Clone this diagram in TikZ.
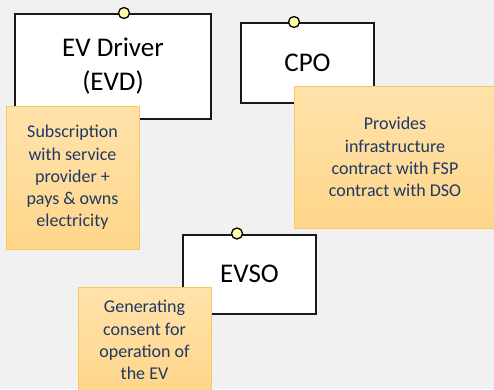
\documentclass[tikz,border=0pt]{standalone}
\usepackage{fontspec}
\setmainfont{Carlito}
\definecolor{canvas}{HTML}{F1F1F1}
\definecolor{portfill}{HTML}{FFFFAA}
\definecolor{notetop}{HTML}{FFE2AB}
\definecolor{notebot}{HTML}{FED68A}
\definecolor{noteedge}{HTML}{F9C95C}
\definecolor{notetext}{HTML}{1F3864}
\begin{document}
\begin{tikzpicture}[x=1pt,y=-1pt,
  actor/.style={draw=black!90, line width=2pt, fill=white, align=center,
    inner sep=0pt, font=\fontsize{27}{34}\selectfont},
  port/.style={circle, draw=black, line width=1.3pt, fill=portfill,
    minimum size=11pt, inner sep=0pt},
  note/.style={draw=noteedge, line width=0.8pt, top color=notetop,
    bottom color=notebot, text=notetext, align=center, inner sep=0pt,
    font=\fontsize{18}{22.2}\selectfont}]
\useasboundingbox (0,0) rectangle (494,389);
\fill[canvas] (0,0) rectangle (494,389);
\clip (0,0) rectangle (494,389);

% actors
\node[actor, minimum width=196pt, minimum height=105pt,
  text depth=4pt] (evd) at (113,66.5) {EV Driver\\(EVD)};
\node[actor, minimum width=133pt, minimum height=80pt] (cpo) at (307.5,63) {CPO};
\node[actor, minimum width=133pt, minimum height=79pt] (evso) at (249.5,274) {EVSO};

% interface ports on the top edges
\node[port] (evdport) at ([xshift=11pt]evd.north) {};
\node[port] (cpoport) at ([xshift=-13.5pt]cpo.north) {};
\node[port] (evsoport) at ([xshift=-12.5pt]evso.north) {};

% annotation notes
\node[note, minimum width=133pt, minimum height=143pt] (evdnote) at (72.5,177.5)
  {Subscription\\with service\\provider +\\pays \& owns\\electricity};
\node[note, minimum width=202pt, minimum height=142pt] (cponote) at (395,157)
  {Provides\\infrastructure\\contract with FSP\\contract with DSO};
\node[note, minimum width=133pt, minimum height=106pt] (evsonote) at (144.5,340)
  {Generating\\consent for\\operation of\\the EV};
\end{tikzpicture}
\end{document}
